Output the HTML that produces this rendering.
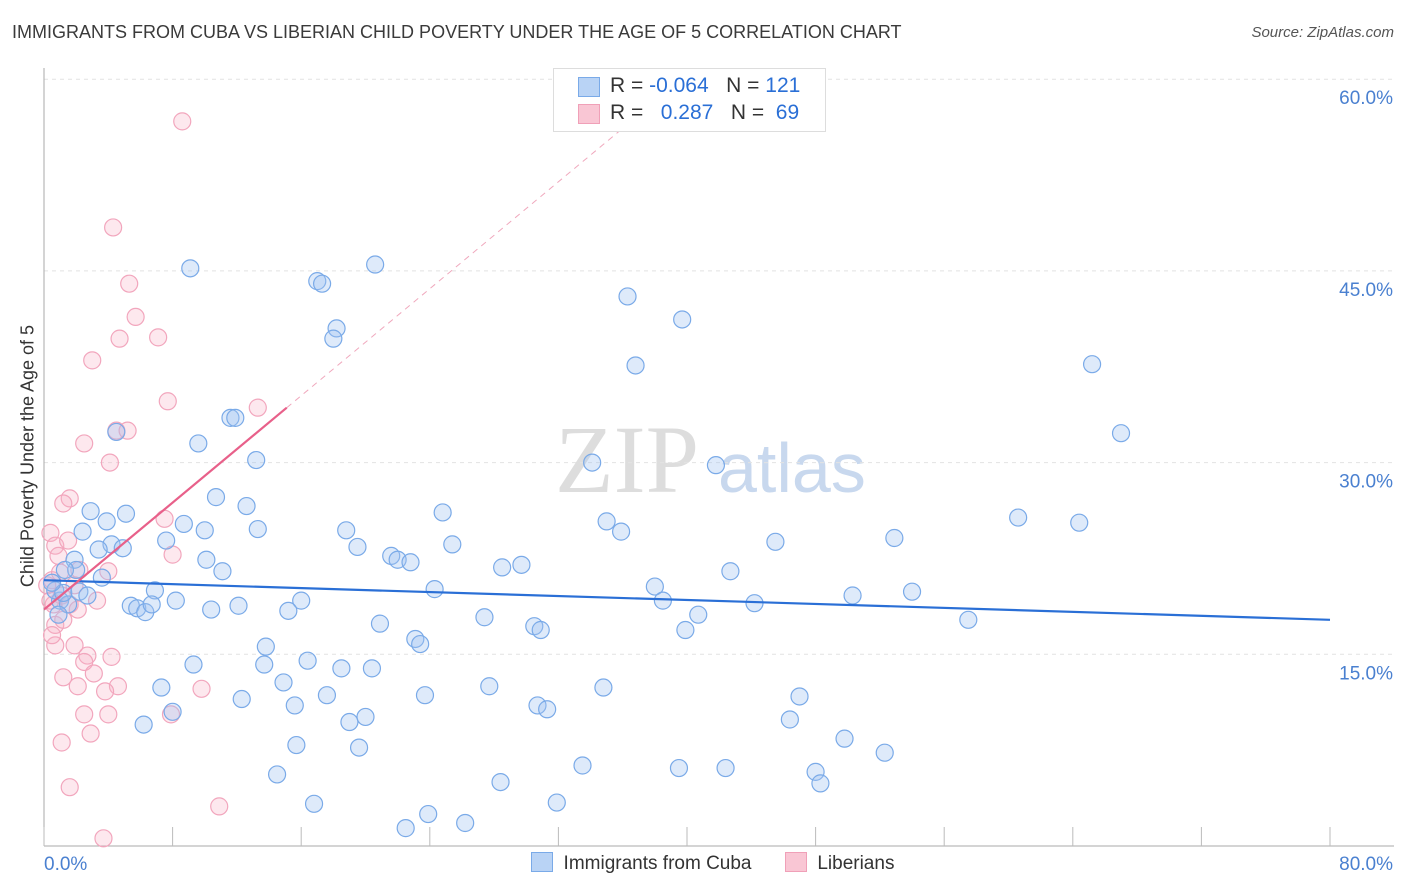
<!DOCTYPE html>
<html><head><meta charset="utf-8"><style>
body{margin:0;background:#fff;font-family:"Liberation Sans",sans-serif;}
#wrap{position:relative;width:1406px;height:892px;overflow:hidden;}
.t{position:absolute;white-space:nowrap;}
</style></head><body>
<div id="wrap">
<div class="t" style="left:12px;top:22px;font-size:18px;color:#3a3a3a;">IMMIGRANTS FROM CUBA VS LIBERIAN CHILD POVERTY UNDER THE AGE OF 5 CORRELATION CHART</div>
<div class="t" style="right:12px;top:24px;font-size:15px;color:#555;font-style:italic;">Source: ZipAtlas.com</div>
<div class="t" style="left:28px;top:456px;font-size:18px;color:#333;transform:translate(-50%,-50%) rotate(-90deg);">Child Poverty Under the Age of 5</div>
<svg id="plot" width="1406" height="892" style="position:absolute;left:0;top:0">
<text x="555" y="492" font-family="Liberation Serif" font-size="96" fill="#ddd">ZIP</text>
<text x="718" y="492" font-family="Liberation Sans" font-size="70" fill="#c8d8ee">atlas</text>
</svg>
<div style="position:absolute;left:553px;top:68px;width:271px;height:62px;border:1px solid #ddd;background:#fff;font-size:21px;">
<div style="position:absolute;left:24px;top:8px;width:20px;height:18px;background:#b9d3f5;border:1px solid #7aaae8"></div>
<div class="t" style="left:56px;top:5px;color:#333">R = <span style="color:#2a6fd6">-0.064</span>&nbsp;&nbsp;&nbsp;N = <span style="color:#2a6fd6">121</span></div>
<div style="position:absolute;left:24px;top:35px;width:20px;height:18px;background:#f9c6d4;border:1px solid #f0a0b8"></div>
<div class="t" style="left:56px;top:32px;color:#333">R = &nbsp;&nbsp;<span style="color:#2a6fd6">0.287</span>&nbsp;&nbsp;&nbsp;N = &nbsp;<span style="color:#2a6fd6">69</span></div>
</div>
<div style="position:absolute;top:852px;left:531px;font-size:19px;color:#333;">
<span style="display:inline-block;width:20px;height:18px;background:#b9d3f5;border:1px solid #7aaae8;vertical-align:-3px"></span>&nbsp; Immigrants from Cuba
<span style="display:inline-block;width:20px;height:18px;background:#f9c6d4;border:1px solid #f0a0b8;vertical-align:-3px;margin-left:28px"></span>&nbsp; Liberians
</div>
</div>
<script>
const xTicks=[0,8,16,24,32,40,48,56,64,72,80];
const yTicks=[15,30,45,60];
const cubaX=[9.1,17.0,17.3,20.6,18.2,18.0,36.3,39.7,36.8,65.2,67.0,11.6,11.9,13.2,9.6,4.5,34.1,41.8,60.6,64.4,10.7,12.6,2.9,5.1,3.9,8.7,10.0,13.3,18.8,24.8,35.0,35.9,45.5,52.9,2.4,7.6,4.2,3.4,4.9,19.5,25.4,21.6,22.0,22.8,28.5,29.7,10.1,11.1,42.7,1.9,2.0,3.6,24.3,38.0,38.5,50.3,54.0,6.9,8.2,16.0,5.4,5.8,6.3,6.7,10.4,12.1,15.2,27.4,20.9,30.5,30.9,40.7,39.9,44.2,57.5,23.1,23.4,13.8,13.7,16.4,18.5,20.4,9.3,14.9,7.3,17.6,23.7,27.7,34.8,47.0,12.3,15.6,30.7,31.3,8.0,6.2,19.0,20.0,46.4,15.7,19.6,49.8,52.3,14.5,33.5,39.5,42.4,48.0,48.3,28.4,16.8,31.9,23.9,22.5,26.2,1.0,0.7,1.5,0.9,1.2,2.2,2.7,0.5,1.3];
const cubaY=[45.2,44.2,44.0,45.5,40.5,39.7,43.0,41.2,37.6,37.7,32.3,33.5,33.5,30.2,31.5,32.4,30.0,29.8,25.7,25.3,27.3,26.6,26.2,26.0,25.4,25.2,24.7,24.8,24.7,26.1,25.4,24.6,23.8,24.1,24.6,23.9,23.6,23.2,23.3,23.4,23.6,22.7,22.4,22.2,21.8,22.0,22.4,21.5,21.5,22.4,21.6,21.0,20.1,20.3,19.2,19.6,19.9,20.0,19.2,19.2,18.8,18.6,18.3,18.9,18.5,18.8,18.4,17.9,17.4,17.2,16.9,18.1,16.9,19.0,17.7,16.2,15.8,15.6,14.2,14.5,13.9,13.9,14.2,12.8,12.4,11.8,11.8,12.5,12.4,11.7,11.5,11.0,11.0,10.7,10.5,9.5,9.7,10.1,9.9,7.9,7.7,8.4,7.3,5.6,6.3,6.1,6.1,5.8,4.9,5.0,3.3,3.4,2.5,1.4,1.8,19.2,20.0,18.9,18.1,19.8,19.9,19.6,20.6,21.6];
const libX=[8.6,4.3,5.3,5.7,4.7,7.1,3.0,7.7,13.3,4.5,5.2,2.5,4.1,1.6,1.2,7.5,8.0,0.4,0.7,1.5,0.9,0.5,1.0,2.2,4.0,1.9,1.1,3.3,0.6,1.6,2.1,0.7,0.7,1.9,2.7,2.5,4.2,3.1,1.2,2.1,4.6,3.8,9.8,2.5,4.0,7.9,2.9,1.1,1.6,10.9,3.7,0.2,0.4,1.2,0.5];
const libY=[56.7,48.4,44.0,41.4,39.7,39.8,38.0,34.8,34.3,32.5,32.5,31.5,30.0,27.2,26.8,25.6,22.8,24.5,23.5,23.9,22.7,20.8,21.4,21.6,21.5,20.4,19.6,19.2,18.9,18.9,18.5,17.3,15.7,15.7,14.9,14.4,14.8,13.5,13.2,12.5,12.5,12.1,12.3,10.3,10.3,10.3,8.8,8.1,4.6,3.1,0.6,20.4,19.2,17.7,16.5];
const trendCuba=[20.8,17.7];
const trendLib=[18.5,1.046];
const libSolidEnd=[15.1];
const libDashEnd=[37.1];

const NS='http://www.w3.org/2000/svg';
const svg=document.getElementById('plot');
const X0=44,X1=1330,Y0=846,YS=12.78;
const sx=v=>X0+v/80*(X1-X0);
const sy=v=>Y0-v*YS;
function mk(tag,attrs){const e=document.createElementNS(NS,tag);for(const k in attrs)e.setAttribute(k,attrs[k]);svg.appendChild(e);return e;}
yTicks.forEach(v=>{
  const g=mk('line',{x1:X0,x2:1394,y1:sy(v),y2:sy(v),stroke:'#e2e2e2','stroke-dasharray':'4,4'});
  
  
  const t=mk('text',{x:1393,y:sy(v)+25,'text-anchor':'end','font-size':19,fill:'#4a80d0','font-family':'Liberation Sans'});
  t.textContent=v.toFixed(1)+'%';
  
  
});
const ax=mk('line',{x1:X0,x2:X0,y1:68,y2:Y0,stroke:'#aaa'});


const bx=mk('line',{x1:X0,x2:1394,y1:Y0,y2:Y0,stroke:'#aaa'});


xTicks.forEach(v=>{
  const l=mk('line',{x1:sx(v),x2:sx(v),y1:Y0-19,y2:Y0,stroke:'#bbb'});
  
  
});
[[0,'start',44],[80,'end',1393]].forEach(([v,a,x])=>{
  const t=mk('text',{x:x,y:870,'text-anchor':a,'font-size':19,fill:'#4a80d0','font-family':'Liberation Sans'});
  t.textContent=v.toFixed(1)+'%';
  
  
});
libX.forEach((x,i)=>{
  const c=mk('circle',{cx:sx(x),cy:sy(libY[i]),r:8.5,fill:'rgba(248,180,200,0.3)',stroke:'#f2a6bd','stroke-width':1.2});
  
  
});
cubaX.forEach((x,i)=>{
  const c=mk('circle',{cx:sx(x),cy:sy(cubaY[i]),r:8.5,fill:'rgba(160,196,240,0.35)',stroke:'#7aaae8','stroke-width':1.2});
  
  
});
const lc=mk('line',{x1:sx(0),y1:sy(trendCuba[0]),x2:sx(80),y2:sy(trendCuba[1]),stroke:'#2a6fd6','stroke-width':2.2});


const ld=mk('line',{x1:sx(libSolidEnd[0]),y1:sy(trendLib[0]+trendLib[1]*libSolidEnd[0]),x2:sx(libDashEnd[0]),y2:sy(trendLib[0]+trendLib[1]*libDashEnd[0]),stroke:'#f0a8bd','stroke-width':1,'stroke-dasharray':'6,5'});


const lp=mk('line',{x1:sx(0),y1:sy(trendLib[0]),x2:sx(libSolidEnd[0]),y2:sy(trendLib[0]+trendLib[1]*libSolidEnd[0]),stroke:'#e8608a','stroke-width':2.2});


</script>
</body></html>
